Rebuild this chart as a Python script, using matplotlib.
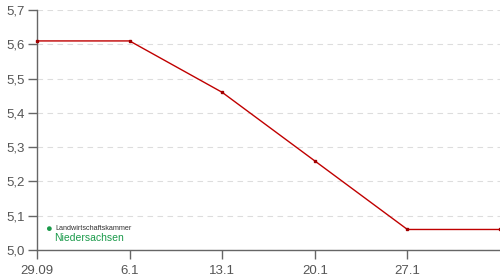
import matplotlib.pyplot as plt

# Values
dates = ['29.09', '6.1', '13.1', '20.1', '27.1', '']
values = [5.61, 5.61, 5.46, 5.26, 5.06, 5.06]
yticks = [5.0, 5.1, 5.2, 5.3, 5.4, 5.5, 5.6, 5.7]

plt.rcParams['font.family'] = ['Liberation Sans', 'DejaVu Sans']

fig = plt.figure(figsize=(5, 2.8), dpi=100)
ax = fig.add_axes([0.074, 0.107, 0.926, 0.857])

x = list(range(len(values)))
ax.plot(x, values, color='#c00000', lw=1.0, marker='s', ms=2.0,
        mfc='#a00000', mec='#a00000', clip_on=False, zorder=3)

ax.set_xlim(0, 5)
ax.set_ylim(5.0, 5.7)
ax.set_xticks(x[:5])
ax.set_xticklabels(dates[:5])
ax.set_yticks(yticks)
ax.set_yticklabels([f'{v:.1f}'.replace('.', ',') for v in yticks])

# Dashed horizontal grid
ax.grid(axis='y', ls=(0, (5, 4)), color='#dddddd', lw=0.8)
ax.grid(axis='x', visible=False)
ax.set_axisbelow(True)

for s in ['top', 'right']:
    ax.spines[s].set_visible(False)
for s in ['left', 'bottom']:
    ax.spines[s].set_color('#666666')
    ax.spines[s].set_linewidth(1.0)

ax.tick_params(axis='both', colors='#666666', labelcolor='#555555',
               labelsize=9.5, length=6.5, width=1.0)
ax.tick_params(axis='x', pad=4.5)
ax.tick_params(axis='y', pad=2)

# Logo text
fig.text(48 / 500, 1 - 229 / 280, '\u25CF', color='#1a9a4a', fontsize=8,
         ha='center', va='center')
fig.text(55 / 500, 1 - 228 / 280, 'Landwirtschaftskammer', color='#333333',
         fontsize=5.2, ha='left', va='center')
fig.text(54 / 500, 1 - 238 / 280, 'Niedersachsen', color='#1a9a4a',
         fontsize=7.5, ha='left', va='center')

fig.savefig('out.png', dpi=100)
